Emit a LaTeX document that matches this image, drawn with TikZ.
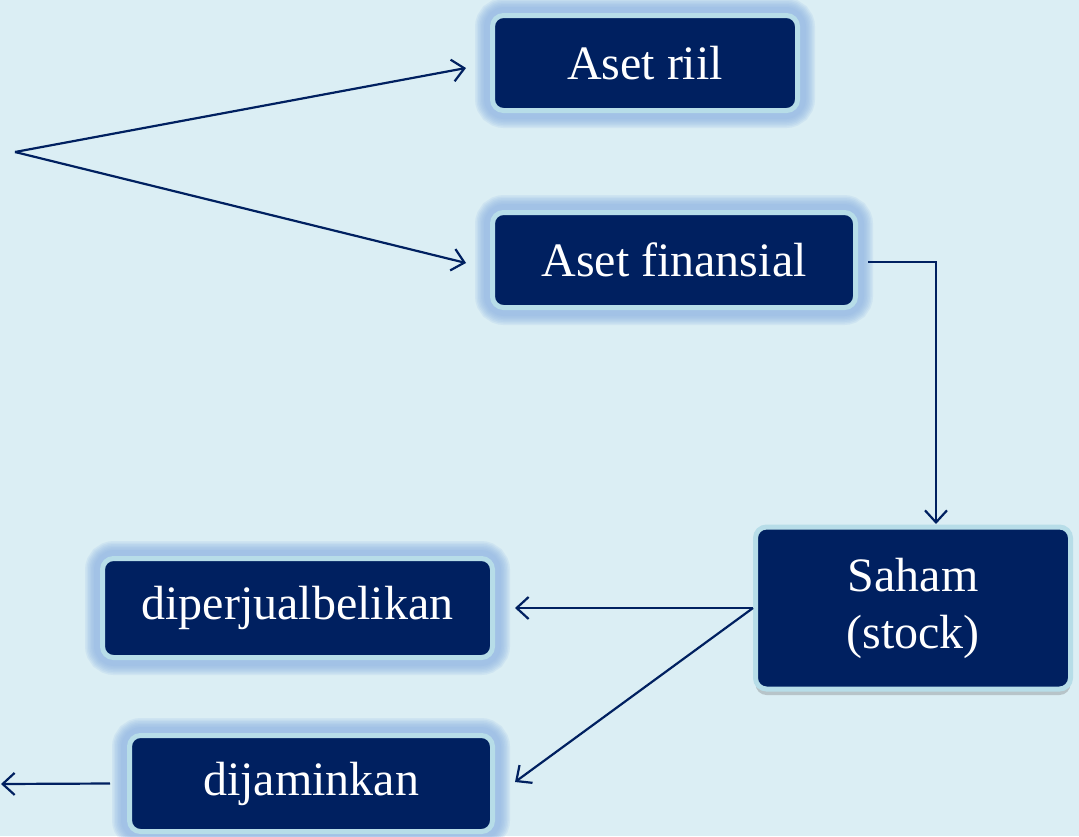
\documentclass[tikz,border=0pt]{standalone}
\usepackage{fontspec}
\setmainfont{Liberation Serif}
\usetikzlibrary{arrows.meta,backgrounds,shadows}
\definecolor{bgc}{HTML}{DBEEF4}
\definecolor{navy}{HTML}{002060}
\definecolor{rimc}{HTML}{B7DDE8}
\definecolor{glowc}{HTML}{8DB3E2}
\tikzset{
  box/.style={fill=navy, draw=rimc, line width=5pt, rounded corners=11pt,
    text=white, inner sep=0pt, align=center,
    font=\fontsize{48}{57}\selectfont},
  conn/.style={draw=navy, line width=2.2pt, -{Straight Barb[length=12pt,width=22pt,line width=2.2pt]}},
  glowline/.style={draw=glowc, rounded corners=14pt, opacity=0.16},
}
\begin{document}
\begin{tikzpicture}[x=1pt,y=-1pt]
\useasboundingbox (0,0) rectangle (1079,836);
\node[box, minimum width=305pt, minimum height=95pt] (riil) at (645,63) {Aset riil};
\node[box, minimum width=363pt, minimum height=95pt] (fin) at (674,260) {Aset finansial};
\node[box, minimum width=315pt, minimum height=162pt,
  drop shadow={shadow xshift=0pt, shadow yshift=-6pt, opacity=0.3, fill=black!60}] (saham) at (913,608) {Saham\\(stock)};
\node[box, minimum width=390pt, minimum height=99pt] (diper) at (297.5,608) {diperjualbelikan};
\node[box, minimum width=363pt, minimum height=96pt] (dij) at (311,783.5) {dijaminkan};
\begin{pgfonlayer}{background}
  \fill[bgc] (0,0) rectangle (1079,836);
  \foreach \n in {riil,fin,diper,dij}{
    \foreach \w in {30,27,24,21,18,15,12}{
      \draw[glowline, line width=\w pt] (\n.south west) rectangle (\n.north east);
    }
  }
\end{pgfonlayer}
\coordinate (origin) at (15,152);
\coordinate (riilend) at (466,68);
\coordinate (finend) at (466,263);
\coordinate (finstart) at (868,262);
\coordinate (sahamend) at (936,524);
\coordinate (dijend) at (515,782);
\coordinate (leftend) at (1,784);
\draw[conn] (origin) -- (riilend);
\draw[conn] (origin) -- (finend);
\draw[conn] (finstart) -| (sahamend);
\draw[conn, shorten >=20pt] (saham.west) -- (diper.east);
\draw[conn] (saham.west) -- (dijend);
\draw[conn] ([xshift=-17pt]dij.west) -- (leftend);
\end{tikzpicture}
\end{document}
